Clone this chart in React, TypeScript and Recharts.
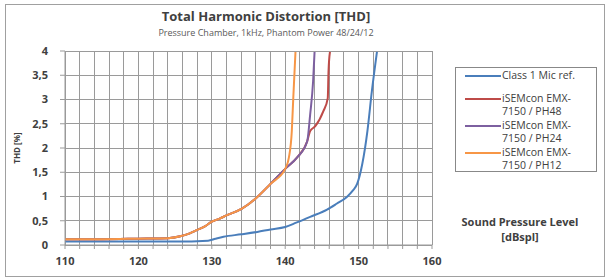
import { LineChart, Line, XAxis, YAxis, CartesianGrid } from 'recharts';

const xTicks = [110, 112, 114, 116, 118, 120, 122, 124, 126, 128, 130, 132, 134, 136, 138, 140, 142, 144, 146, 148, 150, 152, 154, 156, 158, 160];
const yTicks = [0, 0.5, 1, 1.5, 2, 2.5, 3, 3.5, 4];

const refX = [110, 115, 120, 125, 129.5, 130.5, 131.6, 134, 136.2, 138, 140, 141.5, 143.4, 145.7, 147, 148.4, 149.2, 149.8, 150.5, 151.2, 151.8, 152.5];
const refY = [0.07, 0.07, 0.07, 0.07, 0.09, 0.13, 0.17, 0.22, 0.27, 0.32, 0.37, 0.46, 0.58, 0.73, 0.85, 0.99, 1.12, 1.26, 1.67, 2.35, 3.16, 3.98];

const ph48X = [110, 115, 120, 124, 125.7, 127, 128, 129, 130, 131, 132, 134.1, 135.9, 138, 140, 141.6, 143, 143.4, 144.1, 145.2, 145.8, 145.9, 146.1];
const ph48Y = [0.12, 0.12, 0.13, 0.14, 0.18, 0.24, 0.31, 0.38, 0.48, 0.54, 0.61, 0.75, 0.95, 1.26, 1.57, 1.8, 2.14, 2.35, 2.45, 2.76, 3.03, 3.57, 3.98];

const ph24X = [110, 115, 120, 124, 125.7, 127, 128, 129, 130, 131, 132, 134.1, 135.9, 138, 140, 141.6, 143, 143.4, 143.8, 144];
const ph24Y = [0.12, 0.12, 0.13, 0.14, 0.18, 0.24, 0.31, 0.38, 0.48, 0.54, 0.61, 0.75, 0.95, 1.26, 1.57, 1.8, 2.14, 2.69, 3.37, 3.98];

const ph12X = [110, 115, 120, 124, 125.7, 127, 128, 129, 130, 131, 132, 134.1, 135.9, 138, 140, 140.5, 140.9, 141.1, 141.4];
const ph12Y = [0.12, 0.12, 0.13, 0.14, 0.18, 0.24, 0.31, 0.38, 0.48, 0.54, 0.61, 0.75, 0.95, 1.26, 1.57, 1.8, 2.35, 3.03, 3.98];

const toPoints = (xs: number[], ys: number[]) => xs.map((x, i) => ({ x, y: ys[i] }));

const series = [
  { name: 'Class 1 Mic ref.', color: '#4A7EBB', data: toPoints(refX, refY) },
  { name: 'iSEMcon EMX-7150 / PH48', color: '#BE4B48', data: toPoints(ph48X, ph48Y) },
  { name: 'iSEMcon EMX-7150 / PH24', color: '#7D60A0', data: toPoints(ph24X, ph24Y) },
  { name: 'iSEMcon EMX-7150 / PH12', color: '#F79646', data: toPoints(ph12X, ph12Y) },
];

const legendLines = [['Class 1 Mic ref.'], ['iSEMcon EMX-', '7150 / PH48'], ['iSEMcon EMX-', '7150 / PH24'], ['iSEMcon EMX-', '7150 / PH12']];

const font = '"Open Sans", sans-serif';
const tickStyle = { fontSize: 11, fontWeight: 700, fill: '#404040', fontFamily: font };
const gridColor = '#9a9a9a';

export default function App() {
  return (
    <div style={{ position: 'absolute', left: 0, top: 0, width: 611, height: 277, background: '#fff', fontFamily: font }}>
      <div style={{ position: 'absolute', left: 5, top: 4, width: 598, height: 271, border: '1px solid #a0a0a0' }} />
      <div style={{ position: 'absolute', left: 0, width: 532, top: 7, textAlign: 'center', fontSize: 13, fontWeight: 700, color: '#404040' }}>
        Total Harmonic Distortion [THD]
      </div>
      <div style={{ position: 'absolute', left: 0, width: 532, top: 26, textAlign: 'center', fontSize: 9, color: '#595959' }}>
        Pressure Chamber, 1kHz, Phantom Power 48/24/12
      </div>
      <div style={{ position: 'absolute', left: 16, top: 148, transform: 'translate(-50%, -50%) rotate(-90deg)', fontSize: 8, fontWeight: 700, color: '#404040', whiteSpace: 'nowrap' }}>
        THD [%]
      </div>
      <LineChart width={611} height={277} data={series[0].data} margin={{ top: 51, right: 179, bottom: 0, left: 0 }} style={{ position: 'absolute', left: 0, top: 0 }}>
        <CartesianGrid stroke={gridColor} strokeWidth={1} shapeRendering="crispEdges" />
        <XAxis
          type="number"
          dataKey="x"
          domain={[110, 160]}
          ticks={xTicks}
          interval={0}
          height={32}
          tickFormatter={(v: number) => (v % 10 === 0 ? String(v) : '')}
          tick={tickStyle}
          tickSize={4}
          tickMargin={8}
          tickLine={{ stroke: gridColor }}
          axisLine={{ stroke: gridColor }}
        />
        <YAxis
          type="number"
          domain={[0, 4]}
          ticks={yTicks}
          width={65}
          tickFormatter={(v: number) => String(v).replace('.', ',')}
          tick={tickStyle}
          tickSize={5}
          tickMargin={12}
          tickLine={{ stroke: gridColor }}
          axisLine={{ stroke: gridColor }}
        />
        {series.map((s) => (
          <Line
            key={s.name}
            data={s.data}
            dataKey="y"
            name={s.name}
            type="monotone"
            stroke={s.color}
            strokeWidth={2}
            dot={false}
            isAnimationActive={false}
          />
        ))}
      </LineChart>
      <div style={{ position: 'absolute', left: 455, top: 67, width: 142, height: 105, border: '1px solid #888', boxSizing: 'border-box', padding: '1px 0 0 9px' }}>
        {series.map((s, i) => (
          <div key={s.name} style={{ display: 'flex', alignItems: 'flex-start', marginBottom: i === 0 ? 10 : 1 }}>
            <div style={{ width: 36, height: 2, background: s.color, marginTop: 6, flexShrink: 0 }} />
            <div style={{ fontSize: 10.5, lineHeight: '13px', color: '#404040', marginLeft: 1, whiteSpace: 'nowrap' }}>
              {legendLines[i].map((t) => (
                <div key={t}>{t}</div>
              ))}
            </div>
          </div>
        ))}
      </div>
      <div style={{ position: 'absolute', left: 430, width: 180, top: 214, textAlign: 'center', fontSize: 11, fontWeight: 700, color: '#404040', lineHeight: '15px' }}>
        <div>Sound Pressure Level</div>
        <div>[dBspl]</div>
      </div>
    </div>
  );
}
